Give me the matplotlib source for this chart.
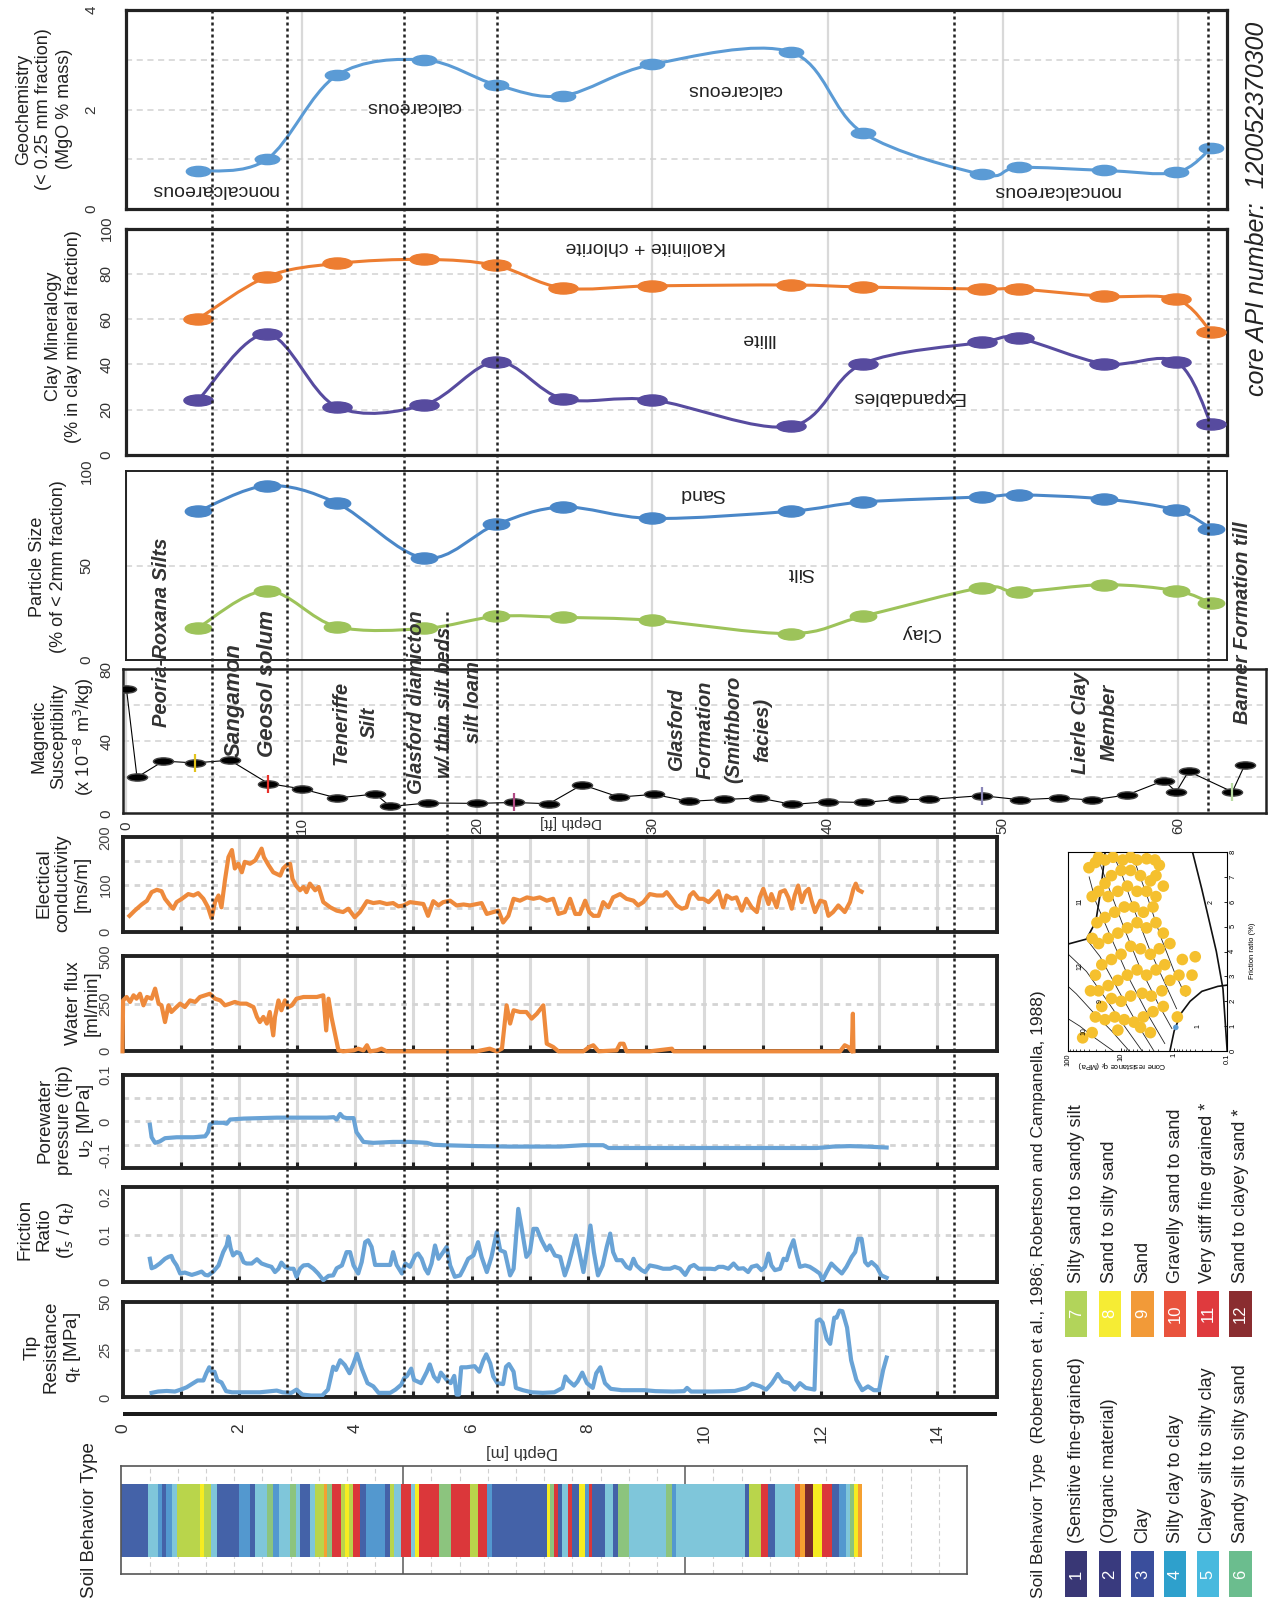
import numpy as np
import matplotlib
matplotlib.use("Agg")
import matplotlib.pyplot as plt
from matplotlib.path import Path
from matplotlib.patches import PathPatch
import matplotlib.transforms as mtransforms
from matplotlib import font_manager

# ------------------------------------------------------------------ data
# core samples (depth in ft)
core_depth_ft = [4.1, 8.0, 12.0, 17.0, 21.1, 24.9, 30.0, 37.9, 42.0, 48.8, 50.9, 55.8, 59.9, 61.9]
mgo_pct = [0.76, 1.00, 2.69, 3.00, 2.50, 2.28, 2.91, 3.16, 1.54, 0.70, 0.84, 0.78, 0.74, 1.23]
illite_plus_expand = [60.2, 78.7, 84.6, 86.4, 83.7, 73.8, 74.7, 75.1, 74.2, 73.3, 73.3, 70.1, 68.8, 54.3]
expandables = [24.4, 53.4, 21.3, 22.2, 41.2, 24.9, 24.4, 12.7, 40.3, 49.8, 51.6, 40.3, 41.2, 13.6]
silt_plus_clay = [78.9, 92.4, 83.2, 54.1, 71.9, 81.1, 75.1, 78.9, 83.8, 86.5, 87.6, 85.4, 79.5, 69.7]
clay_pct = [17.3, 36.8, 17.8, 16.8, 23.2, 22.7, 21.1, 14.1, 23.2, 38.4, 36.2, 40.0, 36.8, 30.3]

mag_depth_ft = [0.0, 0.6, 2.1, 3.9, 5.9, 8.1, 10.0, 12.0, 14.2, 15.05, 17.2, 20.0, 22.1, 24.1, 26.0,
                28.1, 30.1, 32.1, 34.1, 36.1, 38.0, 40.0, 42.1, 44.0, 45.8, 48.8, 51.0, 53.2, 55.1,
                57.1, 59.2, 59.9, 60.6, 63.1, 63.8]
mag_sus = [69, 20, 29, 28, 29.5, 16.5, 13.6, 8.5, 10.7, 3.8, 5.7, 5.5, 6.0, 5.3, 15.9,
           9.0, 10.5, 6.6, 7.7, 8.5, 4.9, 6.4, 6.0, 7.7, 7.7, 9.8, 7.5, 8.5, 7.4,
           10.2, 18.2, 11.9, 23.3, 11.9, 26.7]
mag_flag_depth_ft = [3.9, 8.1, 22.1, 48.8, 63.1]
mag_flag_value = [28, 16.5, 6.0, 9.8, 11.9]
mag_flag_color = ['#e2c21c', '#e8302a', '#b04a84', '#8a86b8', '#b9dca2']

# CPT logs (depth in m)
ec_depth = [0.12, 0.21, 0.33, 0.42, 0.50, 0.59, 0.67, 0.73, 0.82, 0.87, 0.93, 1.02, 1.13, 1.22, 1.30,
            1.39, 1.47, 1.53, 1.59, 1.65, 1.70, 1.76, 1.82, 1.88, 1.93, 1.99, 2.05, 2.10, 2.19, 2.28,
            2.33, 2.39, 2.43, 2.51, 2.59, 2.71, 2.76, 2.82, 2.88, 2.92, 2.98, 3.05, 3.11, 3.16, 3.22,
            3.31, 3.37, 3.45, 3.57, 3.68, 3.79, 3.88, 3.99, 4.08, 4.20, 4.31, 4.42, 4.54, 4.65, 4.74,
            4.83, 4.94, 5.05, 5.17, 5.25, 5.34, 5.43, 5.51, 5.63, 5.74, 5.86, 5.97, 6.09, 6.17, 6.26,
            6.37, 6.46, 6.54, 6.63, 6.72, 6.83, 6.95, 7.06, 7.17, 7.29, 7.40, 7.49,
            7.60, 7.69, 7.78, 7.86, 7.95, 8.02, 8.09, 8.18, 8.26, 8.35, 8.43, 8.55, 8.66, 8.78, 8.86,
            8.95, 9.06, 9.18, 9.29, 9.35, 9.44, 9.52, 9.61, 9.69, 9.75, 9.81, 9.90, 9.98, 10.07, 10.15,
            10.24, 10.32, 10.38, 10.47, 10.55, 10.64, 10.72, 10.81, 10.90, 10.95, 11.01, 11.10, 11.15,
            11.24, 11.30, 11.38, 11.44, 11.50, 11.55, 11.61, 11.67, 11.73, 11.79, 11.84, 11.90, 11.99,
            12.07, 12.13, 12.21, 12.30, 12.41, 12.50, 12.56, 12.60, 12.64, 12.70]
ec_value = [34, 45, 58, 66, 84, 89, 86, 70, 56, 49, 63, 70, 80, 77, 82,
            70, 52, 29, 63, 77, 52, 109, 158, 173, 134, 144, 126, 148, 144, 151,
            162, 176, 158, 141, 126, 119, 134, 141, 144, 112, 98, 88, 95, 84, 102,
            88, 95, 63, 52, 45, 42, 49, 31, 42, 65, 61, 63, 59, 61, 54,
            56, 63, 61, 59, 34, 65, 56, 63, 66, 56, 58, 56, 59, 61, 38,
            42, 45, 20, 34, 70, 66, 73, 70, 73, 66, 70, 38,
            42, 70, 38, 38, 66, 42, 34, 34, 63, 52, 73, 80, 70, 66, 56,
            63, 80, 77, 77, 84, 70, 56, 49, 52, 77, 84, 70, 70, 63, 73,
            86, 52, 77, 70, 73, 45, 70, 52, 42, 73, 91, 59, 80,
            52, 84, 88, 73, 49, 77, 98, 63, 84, 91, 66, 42, 66,
            63, 34, 42, 56, 42, 63, 91, 102, 89, 85]

wf_depth = [0.00, 0.01, 0.07, 0.13, 0.19, 0.24, 0.30, 0.36, 0.42, 0.50, 0.56, 0.62, 0.67, 0.73, 0.79,
            0.84, 0.90, 0.99, 1.07, 1.16, 1.25, 1.33, 1.42, 1.50, 1.59, 1.68, 1.76, 1.85, 1.93, 2.02,
            2.13, 2.25, 2.31, 2.36, 2.42, 2.48, 2.53, 2.59, 2.62, 2.68, 2.73, 2.79, 2.85, 2.91, 2.99,
            3.11, 3.22, 3.34, 3.45, 3.50, 3.54, 3.59, 3.65, 3.71, 3.79, 3.97, 4.05, 4.14, 4.20, 4.25,
            4.37, 4.45, 4.54, 4.65, 4.94, 5.23, 5.51, 5.80, 6.08, 6.31, 6.43, 6.52, 6.60, 6.66, 6.72,
            6.83, 6.94, 7.03, 7.12, 7.23, 7.29, 7.40, 7.49, 7.60, 7.92, 8.02, 8.09, 8.18, 8.49, 8.55,
            8.61, 8.66, 9.06, 9.44, 9.47, 10.21, 11.36, 12.33, 12.41, 12.47, 12.53, 12.55, 12.56]
wf_value = [0, 268, 286, 260, 295, 277, 303, 242, 286, 277, 330, 251, 242, 154, 242,
            207, 225, 251, 233, 268, 260, 286, 295, 303, 277, 268, 242, 251, 260, 251,
            251, 233, 181, 154, 181, 146, 207, 84, 181, 268, 216, 268, 233, 242, 277,
            286, 286, 286, 295, 110, 277, 181, 93, 5, 0, 5, 14, 5, 32, 0,
            5, 14, 0, 0, 0, 0, 0, 0, 0, 14, 0, 14, 242, 146, 216,
            207, 207, 172, 198, 242, 40, 23, 0, 0, 0, 23, 32, 0, 5, 40,
            40, 0, 0, 14, 0, 0, 0, 0, 32, 23, 0, 198, 0]

pwp_depth = [0.47, 0.50, 0.56, 0.64, 0.73, 0.93, 1.22, 1.42, 1.47, 1.50,
             1.56, 1.73, 1.79, 1.85, 2.08, 2.36, 2.65, 2.94, 3.22, 3.51,
             3.63, 3.68, 3.74, 3.79, 3.85, 3.97, 4.02, 4.14, 4.31, 4.65,
             4.94, 5.23, 5.34, 5.51, 6.09, 6.66, 6.94, 7.52, 7.92, 8.26,
             8.35, 9.06, 10.21, 11.36, 11.93, 12.04, 12.21, 12.50, 12.79, 13.13]
pwp_value = [-0.007, -0.034, -0.046, -0.043, -0.036, -0.034, -0.034, -0.032, -0.023, -0.007,
             -0.003, -0.003, -0.005, 0.004, 0.006, 0.007, 0.008, 0.008, 0.008, 0.008,
             0.009, 0.004, 0.016, 0.009, 0.007, 0.007, -0.023, -0.044, -0.046, -0.044,
             -0.044, -0.046, -0.050, -0.051, -0.053, -0.054, -0.054, -0.054, -0.051, -0.051,
             -0.057, -0.057, -0.057, -0.057, -0.057, -0.056, -0.054, -0.053, -0.054, -0.056]

fr_depth = [0.47, 0.50, 0.56, 0.64, 0.73, 0.79, 0.84, 0.87, 0.93, 0.99, 1.07, 1.19, 1.27, 1.36, 1.42,
            1.47, 1.56, 1.65, 1.73, 1.79, 1.82, 1.86, 1.90, 1.96, 2.02, 2.08, 2.13, 2.22, 2.31, 2.39,
            2.48, 2.56, 2.62, 2.68, 2.73, 2.79, 2.88, 2.94, 2.99, 3.05, 3.11, 3.19, 3.28, 3.36, 3.45,
            3.54, 3.62, 3.68, 3.77, 3.85, 3.91, 3.97, 4.05, 4.11, 4.17, 4.22, 4.28, 4.34, 4.48, 4.60,
            4.65, 4.71, 4.80, 4.86, 4.94, 5.03, 5.08, 5.14, 5.20, 5.25, 5.31, 5.37, 5.43, 5.51, 5.57,
            5.63, 5.71, 5.80, 5.86, 5.94, 6.03, 6.11, 6.17, 6.26, 6.34, 6.43, 6.49, 6.57, 6.66, 6.72,
            6.80, 6.86, 6.94, 7.00, 7.06, 7.12, 7.20, 7.29, 7.34, 7.43, 7.52,
            7.60, 7.66, 7.72, 7.79, 7.85, 7.92, 7.99, 8.04, 8.10, 8.17, 8.25, 8.32, 8.38, 8.43, 8.49,
            8.58, 8.66, 8.72, 8.78, 8.83, 8.92, 8.98, 9.06, 9.18, 9.29, 9.41, 9.49, 9.58, 9.67, 9.75,
            9.82, 9.90, 9.98, 10.10, 10.18, 10.24, 10.32, 10.41, 10.50, 10.58, 10.67, 10.75, 10.81,
            10.90, 10.98, 11.04, 11.10, 11.15, 11.21, 11.30, 11.36, 11.41, 11.47, 11.53, 11.58, 11.64,
            11.73, 11.81, 11.90, 11.98, 12.03, 12.10, 12.18, 12.27, 12.36, 12.44, 12.53, 12.59, 12.64,
            12.70, 12.76, 12.81, 12.87, 12.96, 13.04, 13.13]
fr_value = [0.049, 0.029, 0.032, 0.039, 0.049, 0.053, 0.055, 0.046, 0.035, 0.018, 0.020, 0.015, 0.018, 0.022, 0.015,
            0.014, 0.022, 0.035, 0.063, 0.077, 0.095, 0.070, 0.056, 0.063, 0.060, 0.042, 0.039, 0.039, 0.048, 0.039,
            0.035, 0.032, 0.021, 0.028, 0.041, 0.032, 0.028, 0.028, 0.011, 0.028, 0.035, 0.036, 0.028, 0.018, 0.004,
            0.013, 0.014, 0.029, 0.035, 0.063, 0.063, 0.035, 0.018, 0.042, 0.084, 0.088, 0.074, 0.036, 0.036, 0.036,
            0.063, 0.036, 0.018, 0.039, 0.032, 0.056, 0.060, 0.049, 0.028, 0.018, 0.039, 0.077, 0.049, 0.063, 0.074,
            0.035, 0.011, 0.014, 0.028, 0.049, 0.056, 0.084, 0.053, 0.021, 0.053, 0.105, 0.067, 0.063, 0.014, 0.028,
            0.154, 0.112, 0.053, 0.063, 0.112, 0.112, 0.088, 0.067, 0.077, 0.056, 0.053,
            0.014, 0.035, 0.063, 0.098, 0.063, 0.021, 0.074, 0.119, 0.063, 0.014, 0.035, 0.074, 0.102, 0.063, 0.046,
            0.046, 0.032, 0.028, 0.049, 0.035, 0.025, 0.021, 0.035, 0.032, 0.028, 0.028, 0.032, 0.028, 0.015, 0.032,
            0.036, 0.028, 0.028, 0.028, 0.027, 0.032, 0.032, 0.028, 0.039, 0.028, 0.029, 0.021, 0.032,
            0.035, 0.025, 0.032, 0.060, 0.035, 0.025, 0.028, 0.049, 0.046, 0.070, 0.088, 0.060, 0.032,
            0.035, 0.032, 0.025, 0.018, 0.004, 0.021, 0.039, 0.028, 0.018, 0.032, 0.053, 0.063, 0.091,
            0.091, 0.042, 0.035, 0.042, 0.032, 0.014, 0.009]

tr_depth = [0.50, 0.61, 0.76, 0.90, 1.00, 1.10, 1.20, 1.29, 1.39, 1.44, 1.49, 1.54, 1.58, 1.63, 1.70,
            1.78, 1.88, 2.07, 2.36, 2.65, 2.75, 2.90, 2.99, 3.09, 3.24, 3.43, 3.53, 3.62, 3.67, 3.74,
            3.82, 3.90, 3.97, 4.03, 4.11, 4.21, 4.31, 4.40, 4.60, 4.69, 4.79, 4.84, 4.89, 4.96, 5.01,
            5.13, 5.23, 5.28, 5.35, 5.42, 5.47, 5.57, 5.64, 5.70, 5.74, 5.78, 5.82, 5.91, 5.98, 6.05,
            6.13, 6.20, 6.25, 6.32, 6.37, 6.44, 6.54, 6.59, 6.64, 6.72, 6.76, 6.88, 7.03, 7.22, 7.42,
            7.56, 7.61, 7.66, 7.76, 7.82, 7.90, 7.98, 8.08, 8.14, 8.21, 8.29, 8.39, 8.58, 8.97, 9.16,
            9.46, 9.65, 9.70, 9.77, 10.14, 10.52, 10.72, 10.82, 10.96, 11.06, 11.16, 11.26, 11.35, 11.45,
            11.55, 11.64, 11.74, 11.89, 11.93, 11.98, 12.03, 12.10, 12.16, 12.23, 12.27, 12.32, 12.37,
            12.45, 12.52, 12.61, 12.71, 12.81, 12.91, 13.00, 13.07, 13.13]
tr_value = [2.4, 3.1, 3.4, 3.1, 4.1, 5.3, 7.2, 8.9, 8.9, 12.7, 15.8, 13.0, 13.5, 8.9, 7.9,
            3.3, 2.7, 2.7, 2.7, 3.6, 2.7, 2.4, 4.1, 1.5, 1.0, 1.0, 4.1, 16.1, 14.4, 19.5,
            17.0, 12.7, 17.8, 22.9, 15.2, 7.5, 5.8, 2.4, 2.4, 4.1, 6.7, 10.1, 11.3, 15.1, 9.2,
            7.5, 13.5, 17.3, 11.0, 8.4, 13.0, 9.2, 7.5, 11.3, 1.5, 1.5, 15.8, 15.8, 16.1, 16.4,
            13.5, 19.5, 22.6, 17.8, 11.0, 7.5, 7.0, 16.1, 17.5, 13.5, 5.0, 3.8, 2.7, 2.4, 2.7,
            5.0, 11.0, 8.9, 6.2, 8.4, 13.0, 7.5, 5.0, 12.7, 15.8, 7.5, 4.5, 3.8, 3.8, 3.3,
            3.1, 3.3, 5.0, 3.1, 3.1, 3.4, 5.0, 7.2, 5.8, 4.1, 7.5, 12.3, 8.4, 7.5,
            4.1, 7.5, 5.0, 4.1, 40.1, 40.9, 39.2, 30.7, 28.1, 41.8, 41.8, 45.5, 45.2,
            36.6, 19.5, 9.2, 3.8, 5.8, 3.8, 3.8, 14.4, 20.9]

# soil behaviour type intervals (top depth in m, Robertson zone)
sbt_top = [0.00, 0.48, 0.65, 0.72, 0.80, 0.90, 0.98, 1.39, 1.47, 1.59, 1.69, 2.09, 2.29, 2.37, 2.59,
           2.69, 2.79, 2.99, 3.09, 3.17, 3.34, 3.44, 3.59, 3.64, 3.74, 3.90, 3.96, 4.03, 4.10, 4.23,
           4.33, 4.68, 4.76, 4.83, 4.96, 5.13, 5.20, 5.28, 5.63, 5.85, 6.18, 6.32, 6.49, 6.57, 7.55,
           7.60, 7.67, 7.74, 7.82, 7.92, 8.00, 8.12, 8.22, 8.30, 8.35, 8.57, 8.72, 8.81, 9.01, 9.66,
           9.76, 9.84, 11.06, 11.14, 11.35, 11.47, 11.60, 11.95, 12.03, 12.13, 12.27, 12.43, 12.60,
           12.73, 12.85, 12.93, 13.00, 13.07]
sbt_zone = [3, 5, 4, 3, 4, 5, 7, 8, 7, 5, 3, 4, 3, 5, 6,
            4, 5, 6, 5, 3, 5, 7, 9, 6, 11, 7, 8, 7, 11, 3,
            4, 3, 7, 5, 11, 5, 8, 11, 6, 11, 7, 11, 4, 3, 8,
            6, 11, 3, 5, 11, 3, 8, 4, 11, 3, 5, 3, 6, 5, 6,
            4, 5, 3, 7, 11, 3, 5, 10, 9, 12, 8, 11, 3,
            4, 5, 6, 8, 9]
sbt_bottom = 13.13

zone_numbers = list(range(1, 13))
zone_names = ['(Sensitive fine-grained)', '(Organic material)', 'Clay', 'Silty clay to clay',
              'Clayey silt to silty clay', 'Sandy silt to silty sand', 'Silty sand to sandy silt',
              'Sand to silty sand', 'Sand', 'Gravelly sand to sand', 'Very stiff fine grained *',
              'Sand to clayey sand *']

# Robertson chart points (cone resistance MPa, friction ratio %)
chart_qt = [40.4, 30.5, 26.5, 20.1, 14.2, 9.3, 6.6, 5.0, 3.3, 2.3, 1.9, 2.2, 2.8, 4.3, 6.6, 10, 15.2, 20.1,
            26.5, 35.1, 17.5, 11.5, 7.6, 5.0, 3.3, 2.2, 1.6, 2.5, 3.8, 5.7, 8.7, 13.2, 20.1, 28.5, 35.1,
            26.5, 17.5, 11.5, 7.6, 5.0, 3.3, 2.2, 1.6, 1.2, 1.9, 2.8, 4.3, 6.6, 10, 15.2, 23.1, 30.5,
            37.7, 26.5, 17.5, 11.5, 7.6, 5.0, 3.3, 2.2, 1.5, 1.2, 1.7, 2.7, 4.0, 6.6, 10, 15.2, 23.1,
            30.5, 20.1, 13.2, 8.7, 5.7, 3.8, 2.5, 1.6, 0.81, 0.70, 0.40, 0.46, 0.61, 0.87, 4.3, 2.8,
            11.5, 53, 35.1]
chart_rf = [7.37, 7.58, 7.79, 7.68, 7.79, 7.68, 7.79, 7.68, 7.73, 7.68, 7.47, 7.05, 6.84, 7.05, 7.26, 7.26, 7.05, 6.74,
            6.42, 6.21, 6.21, 6.42, 6.63, 6.42, 6.42, 6.21, 6.63, 5.79, 5.58, 5.79, 5.79, 5.58, 5.37, 5.16, 4.53,
            4.32, 4.53, 4.74, 4.95, 5.16, 4.95, 5.16, 4.74, 4.32, 4.11, 3.89, 4.11, 4.21, 3.89, 3.68, 3.47, 3.05,
            2.42, 2.42, 2.63, 2.84, 3.05, 3.26, 3.05, 3.26, 3.47, 2.84, 2.42, 2.21, 2.32, 2.21, 2.00, 2.11, 1.79,
            1.37, 1.26, 1.37, 1.26, 1.16, 1.37, 1.58, 1.79, 3.05, 3.68, 3.79, 3.05, 2.42, 1.37, 0.95, 0.74,
            0.84, 0.53, 0.74]
chart_blue_qt = [0.93]
chart_blue_rf = [0.95]

# ------------------------------------------------------------------ layout helpers
W, H = 1244.0, 1568.0
fig = plt.figure(figsize=(12.69, 16.0), dpi=100)
fig.patch.set_facecolor('white')
SANS = ['Liberation Sans', 'DejaVu Sans']
NARROW = ['Liberation Sans Narrow', 'Liberation Sans', 'DejaVu Sans']
plt.rcParams['font.family'] = SANS

try:
    _f = font_manager.findfont(font_manager.FontProperties(family='Liberation Sans Narrow'),
                               fallback_to_default=False)
    HAVE_NARROW = 'Narrow' in _f
except Exception:
    HAVE_NARROW = False


def R(x0, y0, x1, y1):
    return [x0 / W, 1 - y1 / H, (x1 - x0) / W, (y1 - y0) / H]


def T(x, y, s, **kw):
    kw.setdefault('ha', 'center')
    kw.setdefault('va', 'center')
    return fig.text(x / W, 1 - y / H, s, **kw)


def smooth_path(x, y):
    x = np.asarray(x, float)
    y = np.asarray(y, float)
    n = len(x)
    verts = [(x[0], y[0])]
    codes = [Path.MOVETO]
    for i in range(n - 1):
        p0 = np.array([x[max(i - 1, 0)], y[max(i - 1, 0)]])
        p1 = np.array([x[i], y[i]])
        p2 = np.array([x[i + 1], y[i + 1]])
        p3 = np.array([x[min(i + 2, n - 1)], y[min(i + 2, n - 1)]])
        c1 = p1 + (p2 - p0) / 6.0
        c2 = p2 - (p3 - p1) / 6.0
        verts += [tuple(c1), tuple(c2), tuple(p2)]
        codes += [Path.CURVE4] * 3
    return Path(verts, codes)


def ellipse_marker(aspect):
    c = Path.unit_circle()
    return Path(c.vertices * np.array([1.0, aspect]), c.codes)


def ylabels(ax, vals, texts, dx_px, fs, family, color='#333333', vas=None):
    tr = mtransforms.offset_copy(ax.get_yaxis_transform(), fig=fig, x=-dx_px, units='dots')
    if vas is None:
        vas = ['center'] * len(vals)
    for v, s, va in zip(vals, texts, vas):
        ax.text(0, v, s, transform=tr, rotation=90, ha='center', va=va,
                fontsize=fs, family=family, color=color, clip_on=False)


FT0, FTS = 124.0, 17.18          # ft axis: px of 0 ft, px per ft (reference coords)
M0, MS = 120.1, 57.05            # m axis for CPT logs
ft_grid = [0, 10, 20, 30, 40, 50, 60]


def upper_axes(x0, y0, x1, y1, ylim, hgrid, box_lw):
    ax = fig.add_axes(R(x0, y0, x1, y1))
    ax.set_xlim((x0 - FT0) / FTS, (x1 - FT0) / FTS)
    ax.set_ylim(*ylim)
    ax.set_xticks([])
    ax.set_yticks([])
    for v in ft_grid:
        ax.axvline(v, color='#d9d9d9', lw=1.6, zorder=0)
    for v in hgrid:
        ax.axhline(v, color='#d2d2d2', lw=1.1, ls=(0, (4, 3)), zorder=0)
    for s in ax.spines.values():
        s.set_linewidth(box_lw)
        s.set_color('#222222')
    return ax


def smooth_series(ax, x, y, color, ms, aspect, lw=2.2):
    ax.add_patch(PathPatch(smooth_path(x, y), fill=False, edgecolor=color, lw=lw, zorder=3))
    ax.plot(x, y, ls='none', marker=ellipse_marker(aspect), ms=ms, color=color, mec=color, zorder=4)


# ------------------------------------------------------------------ geochemistry
ax_g = upper_axes(124, 10, 1203, 205, (0, 4), [1, 2, 3], 2.3)
smooth_series(ax_g, core_depth_ft, mgo_pct, '#5b9bd5', 17.5, 0.42)
ylabels(ax_g, [0, 2, 4], ['0', '2', '4'], 35, 11, NARROW)

# ------------------------------------------------------------------ clay mineralogy
ax_c = upper_axes(124, 224, 1203, 446, (0, 100), [20, 40, 60, 80], 2.3)
smooth_series(ax_c, core_depth_ft, illite_plus_expand, '#ed7d31', 21, 0.38)
smooth_series(ax_c, core_depth_ft, expandables, '#574b9f', 21, 0.38)
ylabels(ax_c, [0, 20, 40, 60, 80, 100], ['0', '20', '40', '60', '80', '100'], 20, 11, NARROW)

# ------------------------------------------------------------------ particle size
ax_p = upper_axes(124, 462, 1203, 647, (0, 100), [50], 1.4)
smooth_series(ax_p, core_depth_ft, silt_plus_clay, '#4a87c8', 19, 0.42)
smooth_series(ax_p, core_depth_ft, clay_pct, '#9dc35a', 19, 0.42)
ylabels(ax_p, [0, 50, 100], ['0', '50', '100'], 40, 11, NARROW)

# ------------------------------------------------------------------ magnetic susceptibility
ax_m = upper_axes(121, 656, 1241, 797, (0, 80), [20, 40, 60], 1.8)
ax_m.plot(mag_depth_ft, mag_sus, color='black', lw=0.8, zorder=3,
          marker=ellipse_marker(0.36), ms=14.5, mfc='black', mec='#444444')
for d, v, c in zip(mag_flag_depth_ft, mag_flag_value, mag_flag_color):
    ax_m.plot([d], [v], marker='|', ms=13, mew=1.6, color=c, zorder=5)
ylabels(ax_m, [0, 40, 80], ['0', '40', '80'], 17, 11, NARROW)
trb = mtransforms.offset_copy(ax_m.get_xaxis_transform(), fig=fig, y=-12, units='dots')
for v in [0, 10, 20, 30, 40, 50, 60]:
    ax_m.text(v, 0, str(v), transform=trb, rotation=90, ha='center', va='center',
              fontsize=11, family=NARROW, color='#333333')

# ------------------------------------------------------------------ CPT panels
ORANGE = '#ee8a3c'
BLUE = '#69a3d6'


def cpt_axes(y0, y1, ylim, hgrid, ticks, ticklabels, vas=None):
    ax = fig.add_axes(R(M0, y0, 977, y1))
    ax.set_xlim(0, (977 - M0) / MS)
    ax.set_ylim(*ylim)
    ax.set_yticks([])
    ax.set_xticks(range(1, 15))
    ax.tick_params(axis='x', direction='in', length=4, width=2.2, color='#222222',
                   labelbottom=False)
    for v in range(1, 15):
        ax.axvline(v, color='#dadada', lw=2.2, zorder=0)
    for v in hgrid:
        ax.axhline(v, color='#d4d4d4', lw=2.0, ls=(0, (2, 2)), zorder=0)
    for s in ax.spines.values():
        s.set_linewidth(2.8)
        s.set_color('#222222')
    ylabels(ax, ticks, ticklabels, 17, 10.5, SANS, color='#444444', vas=vas)
    return ax


ax_ec = cpt_axes(820.5, 913.3, (0, 200), [50, 100, 150], [0, 100, 200], ['0', '100', '200'])
ax_ec.plot(ec_depth, ec_value, color=ORANGE, lw=3.0, solid_joinstyle='round', zorder=3)

ax_wf = cpt_axes(937.2, 1030.3, (0, 500), [250], [0, 250, 500], ['0', '250', '500'])
ax_wf.plot(wf_depth, wf_value, color=ORANGE, lw=3.0, solid_joinstyle='round', zorder=3, clip_on=False)

ax_pw = cpt_axes(1053.2, 1144.7, (-0.1, 0.1), [-0.05, 0, 0.05], [-0.1, 0, 0.1], ['-0.1', '0', '0.1'],
                 vas=['bottom', 'center', 'center'])
ax_pw.plot(pwp_depth, pwp_value, color=BLUE, lw=3.0, solid_joinstyle='round', zorder=3)

ax_fr = cpt_axes(1163.3, 1256.4, (0, 0.2), [0.1], [0, 0.1, 0.2], ['0', '0.1', '0.2'],
                 vas=['center', 'center', 'top'])
ax_fr.plot(fr_depth, fr_value, color=BLUE, lw=3.0, solid_joinstyle='round', zorder=3)

ax_tr = cpt_axes(1276, 1369.5, (0, 50), [25], [0, 25, 50], ['0', '25', '50'])
ax_tr.plot(tr_depth, tr_value, color=BLUE, lw=3.0, solid_joinstyle='round', zorder=3)

# depth [m] axis
ax_d = fig.add_axes(R(M0, 1384, 977, 1388))
ax_d.set_xlim(0, (977 - M0) / MS)
ax_d.set_ylim(0, 1)
ax_d.set_facecolor('#1a1a1a')
for s in ax_d.spines.values():
    s.set_visible(False)
ax_d.set_yticks([])
ax_d.set_xticks(range(0, 15, 2))
ax_d.set_xticklabels([str(v) for v in range(0, 15, 2)], rotation=90, fontsize=12.5, color='#333333')
ax_d.tick_params(axis='x', length=0, pad=5)
T(512, 1422, 'Depth [m]', rotation=180, fontsize=12, color='#333333')

# ------------------------------------------------------------------ soil behaviour type bar
BAR_COL = {1: '#35346f', 2: '#383a7c', 3: '#4462a8', 4: '#5398cf', 5: '#7fc6da', 6: '#8cc47e',
           7: '#b9d54b', 8: '#f6ec21', 9: '#f5a030', 10: '#e5553b', 11: '#db373a', 12: '#7b2b2b'}
LEG_COL = {1: '#393775', 2: '#393a7e', 3: '#3a4e9c', 4: '#2ea0cc', 5: '#48b9de', 6: '#6bbd8e',
           7: '#b2d45a', 8: '#f6ec34', 9: '#f29a38', 10: '#e9533d', 11: '#df3a3e', 12: '#8a2d30'}

ax_s = fig.add_axes(R(119, 1437, 948, 1543))
ax_s.set_xlim(0, 15)
ax_s.set_ylim(0, 1)
ax_s.set_xticks([])
ax_s.set_yticks([])
for v in np.arange(0.5, 15, 0.5):
    if v in (5.0, 10.0):
        ax_s.axvline(v, color='#666666', lw=1.2, zorder=0)
    else:
        ax_s.axvline(v, color='#d0d0d0', lw=0.8, ls=(0, (4, 3)), zorder=0)
for s in ax_s.spines.values():
    s.set_linewidth(1.2)
    s.set_color('#555555')
tops = np.array(sbt_top)
bots = np.append(tops[1:], sbt_bottom)
ax_s.bar(tops, 0.675, width=bots - tops, bottom=0.165, align='edge',
         color=[BAR_COL[z] for z in sbt_zone], linewidth=0, zorder=2)
T(88, 1490, 'Soil Behavior Type', rotation=90, fontsize=13.5, color='#222222')

# ------------------------------------------------------------------ legend
T(1018, 1566, 'Soil Behavior Type  (Robertson et al., 1986; Robertson and Campanella, 1988)',
  rotation=90, rotation_mode='anchor', ha='left', va='center', fontsize=12.5, family=NARROW,
  color='#222222')
leg_x = [1055, 1088, 1120, 1152, 1184, 1216]
for i, (z, name) in enumerate(zip(zone_numbers, zone_names)):
    col = i % 6
    yb = 1565 if i < 6 else 1310
    x = leg_x[col]
    axb = fig.add_axes(R(x - 11, yb - 45, x + 11, yb))
    axb.set_facecolor(LEG_COL[z])
    axb.set_xticks([])
    axb.set_yticks([])
    for s in axb.spines.values():
        s.set_visible(False)
    axb.text(0.5, 0.5, str(z), rotation=90, ha='center', va='center', color='white',
             fontsize=12, transform=axb.transAxes, family=NARROW)
    T(x, yb - 53, name, rotation=90, rotation_mode='anchor', ha='left', va='center',
      fontsize=13, family=NARROW, color='#222222')

# ------------------------------------------------------------------ Robertson chart inset
ax_r = fig.add_axes(R(1047, 835, 1203, 1030))
ax_r.set_xscale('log')
ax_r.set_xlim(100, 0.1)
ax_r.set_ylim(0, 8)
ax_r.set_xticks([100, 10, 1, 0.1])
ax_r.set_xticklabels(['100', '10', '1', '0.1'], rotation=90, fontsize=5.5)
ax_r.set_yticks(range(0, 9))
ax_r.set_yticklabels([str(v) for v in range(0, 9)], rotation=90, fontsize=5.5)
ax_r.yaxis.tick_right()
ax_r.tick_params(direction='in', length=2.5, width=0.6, pad=1.5)
ax_r.tick_params(which='minor', direction='in', length=1.5, width=0.5)
for s in ax_r.spines.values():
    s.set_linewidth(0.8)
# zone boundary curves of the classification chart (approximate, qt MPa / Rf %)
bound_thick = [
    ([1.2, 1.0, 0.75, 0.5, 0.3, 0.15, 0.1], [0.0, 0.8, 1.5, 2.0, 2.4, 2.6, 2.65]),
    ([0.1, 0.12, 0.16, 0.3, 0.45], [0.0, 2.5, 4.0, 6.5, 8.0]),
    ([100, 45, 30, 24, 20], [4.3, 4.5, 5.2, 6.5, 8.0]),
]
for qx, ry in bound_thick:
    ax_r.plot(qx, ry, color='#111111', lw=1.2)
bound_thin = [
    ([14, 30, 60, 100], [0.0, 0.5, 1.0, 1.3]),
    ([7, 15, 35, 70, 100], [0.0, 0.8, 1.6, 2.3, 2.6]),
    ([4, 8, 18, 45, 100], [0.0, 0.9, 2.0, 3.2, 3.9]),
    ([2.4, 5, 11, 25, 45], [0.0, 1.1, 2.4, 3.8, 4.5]),
    ([1.5, 3, 7, 15, 30, 40], [0.3, 1.4, 2.9, 4.5, 6.0, 7.0]),
    ([1.1, 2, 4.5, 9, 18, 30], [0.9, 1.9, 3.4, 5.0, 6.7, 8.0]),
    ([0.9, 1.4, 2.8, 5.5, 10, 15], [1.7, 2.6, 4.0, 5.6, 7.2, 8.0]),
    ([0.6, 1.0, 1.8, 3.2, 5.5, 7], [2.2, 3.2, 4.6, 6.2, 7.6, 8.0]),
]
for qx, ry in bound_thin:
    ax_r.plot(qx, ry, color='#222222', lw=0.6)
ax_r.scatter(chart_qt, chart_rf, s=70, color='#f5c02e', edgecolor='none', zorder=3)
ax_r.scatter(chart_blue_qt, chart_blue_rf, s=16, color='#5b9bd5', edgecolor='none', zorder=4)
zone_lab_q = [0.35, 0.2, 50, 25, 60, 60]
zone_lab_r = [1.0, 6.0, 0.8, 2.0, 6.0, 3.4]
zone_lab_t = ['1', '2', '10', '9', '11', '12']
for q, r_, t in zip(zone_lab_q, zone_lab_r, zone_lab_t):
    ax_r.text(q, r_, t, rotation=90, fontsize=5, ha='center', va='center', zorder=5)
T(1100, 1043, 'Cone resistance q$_t$ (MPa)', rotation=180, fontsize=5.5)
T(1228, 932, 'Friction ratio (%)', rotation=90, fontsize=5.5)

# ------------------------------------------------------------------ axis titles (left)
NLAB = dict(rotation=90, fontsize=13, family=NARROW, color='#222222', linespacing=1.25)
T(43, 107, 'Geochemistry\n(< 0.25 mm fraction)\n(MgO % mass)', **NLAB)
T(62, 330, 'Clay Mineralogy\n(% in clay mineral fraction)', **NLAB)
T(47, 555, 'Particle Size\n(% of < 2mm fraction)', **NLAB)
T(62, 722, 'Magnetic\nSusceptibility\n(x 10$^{-8}$ m$^3$/kg)', **NLAB)
SLAB = dict(rotation=90, fontsize=13.5, color='#222222', linespacing=1.15)
T(62, 866, 'Electical\nconductivity\n[ms/m]', **SLAB)
T(81, 983, 'Water flux\n[ml/min]', **SLAB)
T(65, 1098, 'Porewater\npressure (tip)\nu$_2$ [MPa]', **SLAB)
T(45, 1205, 'Friction\nRatio\n(f$_s$ / q$_t$)', **SLAB)
T(52, 1320, 'Tip\nResistance\nq$_t$ [MPa]', **SLAB)

# in-panel annotations (upside down)
ILAB = dict(rotation=180, fontsize=14, color='#222222')
T(210, 186, 'noncalcareous', **ILAB)
T(1035, 187, 'noncalcareous', **ILAB)
T(405, 104, 'calcareous', **ILAB)
T(720, 88, 'calcareous', **ILAB)
T(633, 242, 'Kaolinite + chlorite', **ILAB)
T(742, 332, 'Illite', **ILAB)
T(890, 389, 'Expandables', **ILAB)
T(688, 484, 'Sand', **ILAB)
T(785, 561, 'Silt', **ILAB)
T(902, 620, 'Clay', **ILAB)
T(560, 806, 'Depth [ft]', rotation=180, fontsize=11, family=NARROW, color='#333333')

# formation names
FS_F = 17.5 if HAVE_NARROW else 14.5
FLAB = dict(rotation=90, fontsize=FS_F, family=NARROW, weight='bold',
            style='italic', color='#333333', linespacing=1.65)
T(158, 620, 'Peoria-Roxana Silts', **FLAB)
T(246, 742, 'Sangamon\nGeosol solum', rotation=90, rotation_mode='anchor', ha='left',
  multialignment='left', fontsize=FS_F + 1.5, family=NARROW, weight='bold', style='italic',
  color='#333333', linespacing=1.75)
T(348, 708, 'Teneriffe\nSilt', **FLAB)
T(436, 688, 'Glasford diamicton\nw/ thin silt beds\nsilt loam', **FLAB)
T(705, 715, 'Glasford\nFormation\n(Smithboro\nfacies)', **FLAB)
T(1073, 708, 'Lierle Clay\nMember', **FLAB)
T(1218, 610, 'Banner Formation till', **FLAB)

T(1232, 205, 'core API number:  120052370300', rotation=90, fontsize=21 if HAVE_NARROW else 18,
  family=NARROW, style='italic', color='#222222')

# ------------------------------------------------------------------ formation boundaries
ax_o = fig.add_axes([0, 0, 1, 1], zorder=50)
ax_o.set_xlim(-M0 / MS, (W - M0) / MS)
ax_o.set_ylim(H, 0)
ax_o.axis('off')
ax_o.patch.set_alpha(0)
boundary_m = [1.54, 2.82, 4.84, 5.58, 6.43, 14.29, 18.65]
boundary_top = [10, 10, 10, 600, 10, 10, 10]
boundary_bot = [1370, 1370, 1370, 1370, 1370, 1370, 797]
for b, t0, t1 in zip(boundary_m, boundary_top, boundary_bot):
    ax_o.plot([b, b], [t0, t1], color='#222222', lw=1.8, ls=(0, (1.2, 1.2)))

fig.savefig('out.png', dpi=100, facecolor='white')
